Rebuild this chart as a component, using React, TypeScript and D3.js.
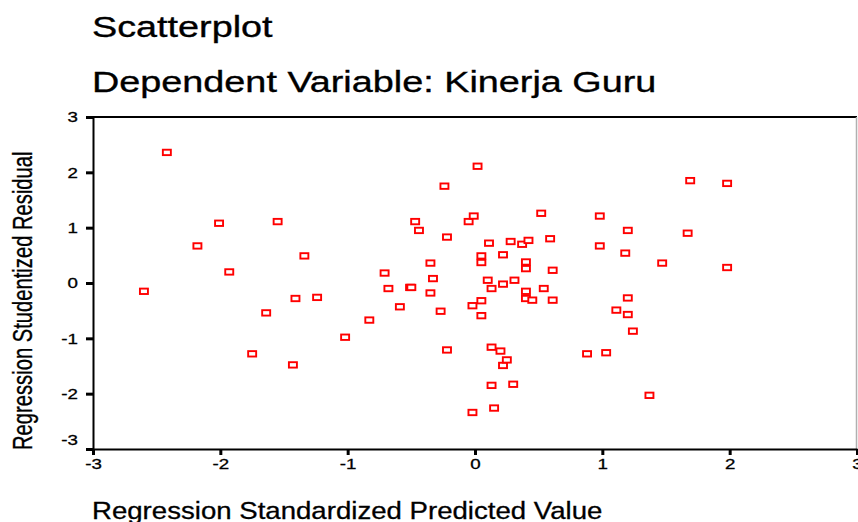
import React, { useRef, useEffect } from 'react';
import { select, scaleLinear, axisLeft, axisBottom } from 'd3';

// regression standardized predicted value (x) and studentized residual (y)
const predicted = [
  -2.6, -2.42, -2.18, -2.01, -1.93, -1.75, -1.64, -1.55, -1.43, -1.41,
  -1.34, -1.24, -1.02, -0.83, -0.71, -0.68, -0.59, -0.51, -0.5, -0.47,
  -0.44, -0.35, -0.35, -0.33, -0.27, -0.24, -0.22, -0.22, -0.05, -0.01,
  -0.02, -0.02, 0.02, 0.05, 0.05, 0.05, 0.05, 0.1, 0.11, 0.13,
  0.13, 0.13, 0.15, 0.2, 0.22, 0.22, 0.22, 0.25, 0.28, 0.3,
  0.31, 0.37, 0.4, 0.4, 0.4, 0.4, 0.42, 0.45, 0.52, 0.54,
  0.59, 0.61, 0.61, 0.88, 0.98, 0.98, 1.03, 1.11, 1.2, 1.18,
  1.2, 1.2, 1.24, 1.37, 1.47, 1.67, 1.69, 1.98, 1.98,
];
const residual = [
  -0.15, 2.36, 0.67, 1.08, 0.2, -1.28, -0.54, 1.11, -1.48, -0.28,
  0.49, -0.26, -0.98, -0.67, 0.18, -0.1, -0.43, -0.08, -0.08, 1.11,
  0.95, -0.18, 0.36, 0.08, -0.51, 1.75, 0.83, -1.21, 1.11, 1.21,
  -0.41, -2.34, 2.11, 0.49, 0.37, -0.32, -0.59, 0.05, 0.72, -1.16,
  -1.85, -0.1, -2.26, -1.23, 0.51, -0.02, -1.49, -1.39, 0.75, -1.83,
  0.05, 0.7, 0.38, 0.26, -0.15, -0.28, 0.77, -0.31, 1.26, -0.1,
  0.8, 0.23, -0.31, -1.28, 1.21, 0.67, -1.26, -0.49, 0.95, 0.54,
  -0.27, -0.57, -0.87, -2.03, 0.36, 0.9, 1.85, 1.8, 0.28,
];
const xTicks = [-3, -2, -1, 0, 1, 2, 3];
const yTicks = [-3, -2, -1, 0, 1, 2, 3];
const titleLines = ['Scatterplot', 'Dependent Variable: Kinerja Guru'];
const xTitle = 'Regression Standardized Predicted Value';
const yTitle = 'Regression Studentized Residual';

const FONT = '"Liberation Sans", Arial, sans-serif';

const App = () => {
  const svgRef = useRef<SVGSVGElement>(null);
  const width = 858;
  const height = 522;
  const plot = { left: 93, right: 857, top: 117, bottom: 449 };

  useEffect(() => {
    const svg = select(svgRef.current);
    svg.selectAll('*').remove();

    const xScale = scaleLinear().domain([-3, 3]).range([plot.left, plot.right]);
    const yScale = scaleLinear().domain([-3, 3]).range([plot.bottom, plot.top]);

    svg.append('rect').attr('width', width).attr('height', height).attr('fill', '#fff');

    // titles
    svg.selectAll('.title')
      .data(titleLines)
      .join('text')
      .attr('class', 'title')
      .attr('transform', (d, i) => `translate(92,${i === 0 ? 36.5 : 92.3}) scale(1.26,1)`)
      .attr('font-family', FONT)
      .attr('font-size', 30)
      .attr('fill', '#000')
      .attr('stroke', '#000')
      .attr('stroke-width', 0.35)
      .text(d => d);

    // frame top + right
    svg.append('line')
      .attr('x1', plot.left).attr('x2', plot.right)
      .attr('y1', plot.top).attr('y2', plot.top)
      .attr('stroke', '#000').attr('stroke-width', 2);
    svg.append('line')
      .attr('x1', plot.right - 0.5).attr('x2', plot.right - 0.5)
      .attr('y1', plot.top).attr('y2', plot.bottom)
      .attr('stroke', '#b0b0b0').attr('stroke-width', 1.5);

    // axes
    const yAxis = axisLeft(yScale).tickValues(yTicks).tickSize(7).tickSizeOuter(0).tickFormat(d => String(d));
    const xAxis = axisBottom(xScale).tickValues(xTicks).tickSize(6).tickSizeOuter(0).tickFormat(d => String(d));

    const gy = svg.append('g').attr('transform', `translate(${plot.left},0)`).call(yAxis);
    const gx = svg.append('g').attr('transform', `translate(0,${plot.bottom})`).call(xAxis);

    [gx, gy].forEach(g => {
      g.select('.domain').attr('stroke', '#000').attr('stroke-width', 2);
      g.selectAll('.tick line').attr('stroke', '#000').attr('stroke-width', 3);
      g.selectAll('.tick text')
        .attr('font-family', FONT)
        .attr('font-size', 15)
        .attr('fill', '#000')
        .attr('stroke', '#000')
        .attr('stroke-width', 0.3);
    });

    gy.selectAll('.tick text')
      .attr('x', -12)
      .attr('transform', (d: any) => `translate(0,${d === -3 ? -9 : 0}) scale(1.25,1)`);
    gx.selectAll('.tick text')
      .attr('y', 9)
      .attr('transform', 'scale(1.25,1)');

    // axis titles
    svg.append('text')
      .attr('transform', 'translate(92,519) scale(1.15,1)')
      .attr('font-family', FONT)
      .attr('font-size', 24)
      .attr('fill', '#000')
      .attr('stroke', '#000')
      .attr('stroke-width', 0.3)
      .text(xTitle);

    svg.append('text')
      .attr('transform', 'translate(32,450) scale(1.35,1) rotate(-90)')
      .attr('font-family', FONT)
      .attr('font-size', 20.2)
      .attr('fill', '#000')
      .attr('stroke', '#000')
      .attr('stroke-width', 0.25)
      .text(yTitle);

    // points
    svg.append('g')
      .selectAll('rect')
      .data(predicted.map((p, i) => ({ x: p, y: residual[i] })))
      .join('rect')
      .attr('x', d => xScale(d.x) - 4)
      .attr('y', d => yScale(d.y) - 2.7)
      .attr('width', 8)
      .attr('height', 5.4)
      .attr('fill', '#fff')
      .attr('stroke', '#ff0000')
      .attr('stroke-width', 1.9);
  }, []);

  return (
    <svg
      ref={svgRef}
      width={width}
      height={height}
      style={{ position: 'absolute', left: 0, top: 0 }}
    />
  );
};

export default App;
